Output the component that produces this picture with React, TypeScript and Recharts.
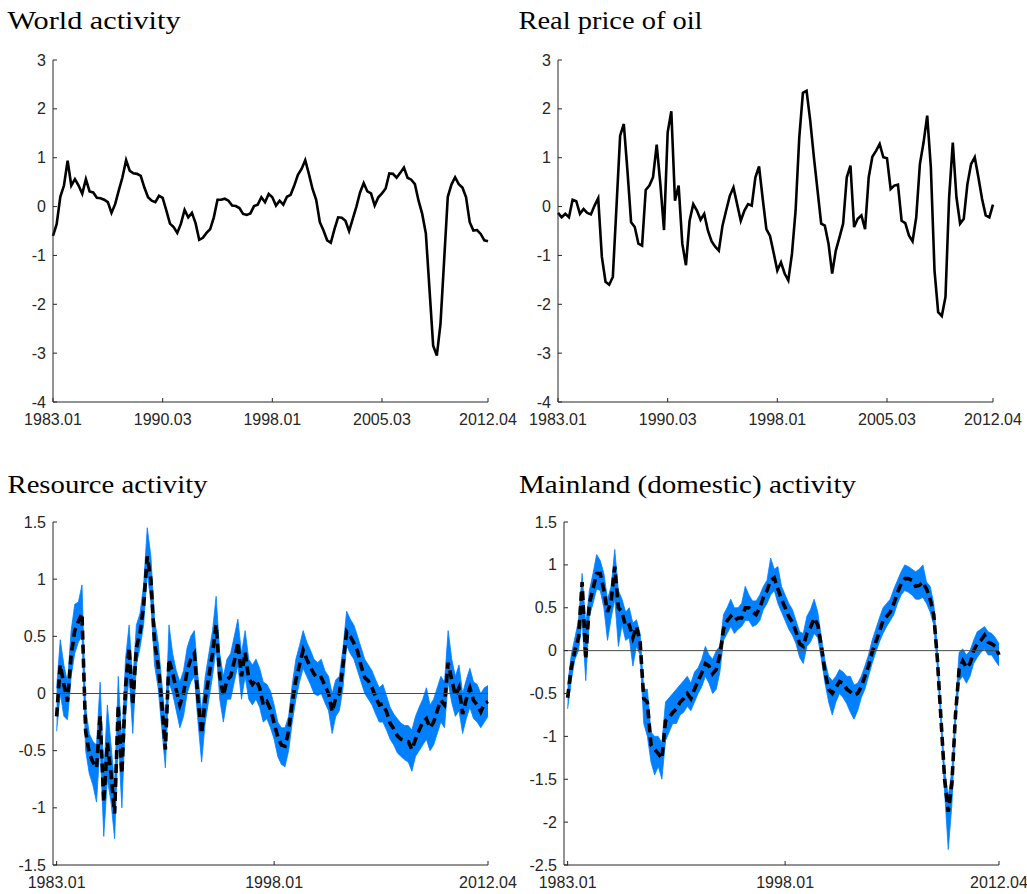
import { ComposedChart, Line, Area, XAxis, YAxis, ReferenceLine } from "recharts";

// quarterly observations, 1983Q1 .. 2012Q4 (120 points)
const worldActivity = [
  -0.6, -0.36, 0.2, 0.43, 0.94, 0.43, 0.56, 0.43, 0.26, 0.56,
  0.31, 0.29, 0.18, 0.17, 0.14, 0.09, -0.13, 0.05, 0.33, 0.6,
  0.95, 0.73, 0.68, 0.67, 0.63, 0.39, 0.19, 0.12, 0.09, 0.22,
  0.18, -0.08, -0.35, -0.42, -0.54, -0.35, -0.07, -0.22, -0.13, -0.34,
  -0.68, -0.64, -0.54, -0.46, -0.22, 0.14, 0.14, 0.16, 0.12, 0.02,
  0.01, -0.03, -0.15, -0.17, -0.14, 0.01, 0.04, 0.19, 0.09, 0.26,
  0.19, 0.02, 0.12, 0.04, 0.2, 0.24, 0.43, 0.65, 0.77, 0.95,
  0.67, 0.36, 0.14, -0.32, -0.49, -0.69, -0.74, -0.46, -0.22, -0.23,
  -0.29, -0.5, -0.25, 0, 0.29, 0.48, 0.31, 0.27, 0.02, 0.19,
  0.27, 0.37, 0.68, 0.67, 0.59, 0.69, 0.8, 0.59, 0.55, 0.46,
  0.12, -0.15, -0.55, -1.7, -2.85, -3.05, -2.4, -1.1, 0.2, 0.45,
  0.6, 0.46, 0.39, 0.19, -0.32, -0.49, -0.48, -0.56, -0.69, -0.71,
];

const oilPrice = [
  -0.13, -0.22, -0.15, -0.22, 0.14, 0.11, -0.15, -0.05, -0.13, -0.16,
  0.02, 0.17, -1.03, -1.54, -1.6, -1.44, 0.0, 1.45, 1.69, 0.73,
  -0.32, -0.42, -0.76, -0.8, 0.34, 0.43, 0.6, 1.27, 0.46, -0.48,
  1.52, 1.95, 0.12, 0.43, -0.76, -1.2, -0.29, 0.05, -0.08, -0.27,
  -0.15, -0.49, -0.71, -0.82, -0.9, -0.39, -0.08, 0.22, 0.39, 0.05,
  -0.29, -0.08, 0.05, 0.02, 0.6, 0.82, 0.16, -0.46, -0.6, -0.95,
  -1.31, -1.14, -1.37, -1.51, -0.97, -0.08, 1.41, 2.33, 2.37, 1.76,
  1.01, 0.33, -0.35, -0.39, -0.76, -1.37, -0.9, -0.63, -0.35, 0.6,
  0.84, -0.42, -0.25, -0.18, -0.46, 0.6, 1.02, 1.14, 1.28, 1.01,
  0.99, 0.36, 0.43, 0.45, -0.29, -0.34, -0.59, -0.71, -0.22, 0.87,
  1.31, 1.86, 0.8, -1.31, -2.16, -2.24, -1.85, 0.19, 1.31, 0.19,
  -0.35, -0.25, 0.46, 0.87, 1.01, 0.6, 0.16, -0.18, -0.22, 0.04,
];

const resourceMedian = [
  -0.2, 0.25, 0.08, -0.07, 0.33, 0.55, 0.63, 0.7, -0.33, -0.52,
  -0.6, -0.65, -0.2, -0.95, -0.43, -0.7, -1.05, -0.1, -0.7, 0.05,
  0.4, -0.1, 0.4, 0.53, 0.77, 1.2, 1.0, 0.45, 0.25, -0.08,
  -0.49, 0.3, 0.18, 0.03, -0.1, 0.0, 0.2, 0.3, 0.35, -0.05,
  -0.35, -0.05, 0.15, 0.35, 0.6, 0.15, -0.02, 0.12, 0.15, 0.28,
  0.45, 0.15, 0.36, 0.13, 0.08, 0.12, 0.05, -0.1, -0.07, -0.14,
  -0.26, -0.38, -0.45, -0.46, -0.33, -0.08, 0.12, 0.25, 0.38, 0.3,
  0.23, 0.17, 0.13, 0.14, 0.07, 0.0, -0.16, -0.04, 0.0, 0.25,
  0.54, 0.5, 0.44, 0.37, 0.24, 0.14, 0.11, 0.05, -0.03, -0.1,
  -0.09, -0.16, -0.26, -0.31, -0.37, -0.4, -0.41, -0.42, -0.49, -0.4,
  -0.32, -0.25, -0.22, -0.3, -0.25, -0.15, -0.06, -0.1, 0.27, 0.12,
  -0.02, 0.05, -0.18, -0.05, 0.05, -0.06, -0.1, -0.16, -0.09, -0.07,
];

const resourceHi = [
  0.05, 0.47, 0.25, 0.1, 0.55, 0.78, 0.8, 0.95, -0.12, -0.35,
  -0.42, -0.45, 0.1, -0.7, -0.1, -0.45, -0.8, 0.15, -0.45, 0.3,
  0.6, 0.1, 0.6, 0.7, 0.95, 1.45, 1.2, 0.65, 0.45, 0.1,
  -0.25, 0.6, 0.35, 0.2, 0.1, 0.2, 0.4, 0.5, 0.55, 0.15,
  -0.15, 0.15, 0.35, 0.55, 0.85, 0.35, 0.15, 0.3, 0.35, 0.5,
  0.65, 0.35, 0.55, 0.3, 0.25, 0.3, 0.22, 0.1, 0.08, 0.02,
  -0.1, -0.25, -0.3, -0.3, -0.2, 0.08, 0.3, 0.42, 0.55, 0.45,
  0.38, 0.3, 0.27, 0.3, 0.2, 0.15, 0.0, 0.12, 0.15, 0.4,
  0.72, 0.65, 0.6, 0.5, 0.4, 0.3, 0.25, 0.2, 0.12, 0.05,
  0.08, -0.02, -0.12, -0.18, -0.22, -0.26, -0.28, -0.28, -0.32, -0.2,
  -0.12, -0.05, 0.05, -0.1, -0.05, 0.05, 0.15, 0.1, 0.55, 0.3,
  0.15, 0.25, 0.0, 0.12, 0.22, 0.1, 0.08, 0.0, 0.05, 0.07,
];

const resourceLo = [
  -0.33, 0.0, -0.2, -0.23, 0.15, 0.35, 0.45, 0.5, -0.5, -0.7,
  -0.8, -0.95, -0.45, -1.25, -0.75, -0.95, -1.27, -0.4, -1.0, -0.2,
  0.15, -0.35, 0.25, 0.4, 0.6, 1.05, 0.8, 0.25, 0.05, -0.3,
  -0.65, 0.1, 0.0, -0.15, -0.3, -0.2, 0.0, 0.1, 0.15, -0.25,
  -0.6, -0.25, -0.05, 0.15, 0.4, -0.05, -0.25, -0.05, -0.05, 0.1,
  0.25, -0.05, 0.15, -0.05, -0.1, -0.05, -0.12, -0.25, -0.22, -0.3,
  -0.4, -0.55, -0.62, -0.64, -0.5, -0.25, -0.05, 0.1, 0.22, 0.15,
  0.08, 0.0, -0.02, 0.0, -0.08, -0.15, -0.35, -0.2, -0.15, 0.05,
  0.42, 0.35, 0.3, 0.2, 0.1, 0.0, -0.05, -0.1, -0.18, -0.25,
  -0.25, -0.32, -0.4, -0.45, -0.52, -0.55, -0.58, -0.6, -0.68, -0.55,
  -0.5, -0.45, -0.4, -0.5, -0.45, -0.35, -0.25, -0.3, 0.1, -0.08,
  -0.2, -0.15, -0.35, -0.22, -0.12, -0.22, -0.25, -0.3, -0.25, -0.2,
];

const mainlandMedian = [
  -0.55, -0.2, 0.0, 0.15, 0.8, -0.1, 0.55, 0.72, 0.9, 0.9,
  0.7, 0.45, 0.58, 0.98, 0.5, 0.45, 0.28, 0.3, 0.15, 0.28,
  0.1, -0.56, -0.6, -1.1, -1.15, -1.2, -1.26, -0.82, -0.78, -0.72,
  -0.68, -0.6, -0.56, -0.5, -0.56, -0.45, -0.35, -0.26, -0.15, -0.18,
  -0.27, -0.22, -0.05, 0.25, 0.35, 0.4, 0.35, 0.38, 0.38, 0.5,
  0.5, 0.45, 0.42, 0.5, 0.62, 0.7, 0.82, 0.85, 0.72, 0.6,
  0.5, 0.4, 0.33, 0.22, 0.08, 0.05, 0.2, 0.27, 0.38, 0.3,
  0.05, -0.25, -0.45, -0.5, -0.43, -0.36, -0.38, -0.45, -0.48, -0.52,
  -0.5, -0.42, -0.3, -0.18, -0.02, 0.1, 0.22, 0.35, 0.4, 0.45,
  0.55, 0.68, 0.78, 0.84, 0.84, 0.82, 0.75, 0.76, 0.8, 0.72,
  0.6, 0.42, -0.1, -0.8, -1.5, -1.88, -1.55, -0.75, -0.22, -0.12,
  -0.2, -0.15, 0.0, 0.08, 0.12, 0.18, 0.1, 0.08, 0.05, -0.05,
];

const mainlandHi = [
  -0.4, -0.05, 0.15, 0.35, 0.9, 0.3, 0.7, 0.9, 1.12, 1.05,
  0.9, 0.6, 0.75, 1.18, 0.7, 0.6, 0.45, 0.5, 0.32, 0.36,
  0.2, -0.45, -0.45, -0.95, -1.0, -1.0, -1.08, -0.6, -0.55, -0.5,
  -0.45, -0.4, -0.35, -0.3, -0.38, -0.25, -0.2, -0.1, 0.05, -0.05,
  -0.1, 0.0, 0.05, 0.42, 0.5, 0.6, 0.5, 0.5, 0.55, 0.75,
  0.65, 0.58, 0.58, 0.65, 0.75, 0.82, 1.08, 0.95, 0.98, 0.75,
  0.65, 0.55, 0.48, 0.35, 0.22, 0.2, 0.4, 0.48, 0.6, 0.45,
  0.15, -0.12, -0.3, -0.35, -0.3, -0.22, -0.25, -0.3, -0.3, -0.4,
  -0.38, -0.3, -0.18, -0.05, 0.12, 0.25, 0.38, 0.5, 0.55, 0.6,
  0.72, 0.82, 0.92, 1.0, 0.98, 0.95, 0.92, 0.95, 1.0, 0.8,
  0.75, 0.55, 0.02, -0.7, -1.4, -1.7, -1.4, -0.65, -0.02, 0.02,
  -0.05, 0.0, 0.12, 0.22, 0.25, 0.28, 0.22, 0.2, 0.15, 0.08,
];

const mainlandLo = [
  -0.68, -0.35, -0.1, 0.0, 0.35, -0.35, 0.4, 0.55, 0.72, 0.7,
  0.5, 0.12, 0.38, 0.6, 0.05, 0.3, 0.12, 0.15, -0.18, 0.05,
  -0.05, -0.85, -1.0, -1.3, -1.45, -1.35, -1.5, -1.05, -0.95, -0.85,
  -0.85, -0.75, -0.72, -0.65, -0.7, -0.6, -0.5, -0.42, -0.3, -0.38,
  -0.5, -0.45, -0.25, 0.12, 0.2, 0.28, 0.2, 0.25, 0.28, 0.35,
  0.35, 0.28, 0.3, 0.35, 0.48, 0.55, 0.65, 0.7, 0.55, 0.45,
  0.35, 0.25, 0.18, 0.08, -0.08, -0.15, 0.05, 0.1, 0.2, 0.15,
  -0.1, -0.38, -0.6, -0.75, -0.6, -0.5, -0.55, -0.62, -0.72, -0.8,
  -0.7, -0.55, -0.45, -0.3, -0.15, -0.02, 0.1, 0.2, 0.28, 0.35,
  0.42, 0.55, 0.65, 0.7, 0.68, 0.65, 0.6, 0.6, 0.62, 0.55,
  0.45, 0.3, -0.2, -0.9, -1.65, -2.32, -1.8, -0.85, -0.35, -0.3,
  -0.38, -0.3, -0.15, -0.08, -0.02, 0.02, -0.05, -0.05, -0.12, -0.18,
];

// x ticks (quarter index -> label)
const topTickPos = [0, 30, 60, 90, 119];
const topTickLabels = ["1983.01", "1990.03", "1998.01", "2005.03", "2012.04"];
const bottomTickPos = [0, 60, 119];
const bottomTickLabels = ["1983.01", "1998.01", "2012.04"];

const topYTicks = [-4, -3, -2, -1, 0, 1, 2, 3];
const resourceYTicks = [-1.5, -1, -0.5, 0, 0.5, 1, 1.5];
const mainlandYTicks = [-2.5, -2, -1.5, -1, -0.5, 0, 0.5, 1, 1.5];

const AXIS = "#262626";
const BAND = "#0080ff";
const TICK_FONT = '"Liberation Sans", Arial, Helvetica, sans-serif';
const TITLE_FONT = '"Liberation Serif", "Times New Roman", serif';
const TICK_SIZE = 16;
const PLOT_W = 435;

const topRows = worldActivity.map((v, i) => ({ q: i, world: v, oil: oilPrice[i] }));
const resourceRows = resourceMedian.map((v, i) => ({ q: i, med: v, band: [resourceLo[i], resourceHi[i]] }));
const mainlandRows = mainlandMedian.map((v, i) => ({ q: i, med: v, band: [mainlandLo[i], mainlandHi[i]] }));

// matlab style: ticks point inward, labels below / left
function xTick(pos: number[], labels: string[]) {
  return (props: any) => {
    const { x, y, payload } = props;
    const label = labels[pos.indexOf(payload.value)];
    return (
      <g>
        <line x1={x} y1={y} x2={x} y2={y - 4} stroke={AXIS} strokeWidth={1} />
        <text x={x} y={y + 23} textAnchor="middle" fontSize={TICK_SIZE} fontFamily={TICK_FONT} fill={AXIS}>
          {label}
        </text>
      </g>
    );
  };
}

const yTick = (props: any) => {
  const { x, y, payload } = props;
  return (
    <g>
      <line x1={x} y1={y} x2={x + 4} y2={y} stroke={AXIS} strokeWidth={1} />
      <text x={x - 7} y={y + 5.5} textAnchor="end" fontSize={TICK_SIZE} fontFamily={TICK_FONT} fill={AXIS}>
        {String(payload.value)}
      </text>
    </g>
  );
};

function Title({ x, y, width, text }: { x: number; y: number; width: number; text: string }) {
  return (
    <svg width={width + x + 10} height={y + 10} style={{ position: "absolute", left: 0, top: 0, overflow: "visible" }}>
      <text x={x} y={y} fontSize={25} fontFamily={TITLE_FONT} fill="#000" textLength={width} lengthAdjust="spacingAndGlyphs">
        {text}
      </text>
    </svg>
  );
}

function TopPanel({ left, width, dataKey, title, titleX, titleW }: any) {
  return (
    <div style={{ position: "absolute", left, top: 0, width, height: 440 }}>
      <Title x={titleX} y={28.5} width={titleW} text={title} />
      <div style={{ position: "absolute", left: 0, top: 0 }}>
        <ComposedChart width={width} height={440} data={topRows} margin={{ top: 60, right: width - 53 - PLOT_W, bottom: 0, left: 0 }}>
          <XAxis
            type="number"
            dataKey="q"
            domain={[0, 119]}
            ticks={topTickPos}
            interval={0}
            tickSize={0}
            tickMargin={0}
            tickLine={false}
            axisLine={{ stroke: AXIS, strokeWidth: 1 }}
            height={38}
            tick={xTick(topTickPos, topTickLabels)}
          />
          <YAxis
            type="number"
            domain={[-4, 3]}
            ticks={topYTicks}
            interval={0}
            tickSize={0}
            tickMargin={0}
            tickLine={false}
            axisLine={{ stroke: AXIS, strokeWidth: 1 }}
            width={53}
            tick={yTick}
          />
          <Line type="linear" dataKey={dataKey} stroke="#000" strokeWidth={2.6} dot={false} isAnimationActive={false} />
        </ComposedChart>
      </div>
    </div>
  );
}

function BandPanel({ left, width, rows, yDomain, yTicks, title, titleX, titleW, yWidth }: any) {
  return (
    <div style={{ position: "absolute", left, top: 460, width, height: 434 }}>
      <Title x={titleX} y={32.5} width={titleW} text={title} />
      <div style={{ position: "absolute", left: 0, top: 0 }}>
        <ComposedChart width={width} height={434} data={rows} margin={{ top: 62, right: width - yWidth - PLOT_W, bottom: 0, left: 0 }}>
          <XAxis
            type="number"
            dataKey="q"
            domain={[-1, 119]}
            ticks={bottomTickPos}
            interval={0}
            tickSize={0}
            tickMargin={0}
            tickLine={false}
            axisLine={{ stroke: AXIS, strokeWidth: 1 }}
            height={29}
            tick={xTick(bottomTickPos, bottomTickLabels)}
          />
          <YAxis
            type="number"
            domain={yDomain}
            ticks={yTicks}
            interval={0}
            tickSize={0}
            tickMargin={0}
            tickLine={false}
            axisLine={{ stroke: AXIS, strokeWidth: 1 }}
            width={yWidth}
            tick={yTick}
          />
          <Area
            type="linear"
            dataKey="band"
            stroke={BAND}
            strokeWidth={0.8}
            fill={BAND}
            fillOpacity={1}
            isAnimationActive={false}
          />
          <Line
            type="linear"
            dataKey="med"
            stroke="#000"
            strokeWidth={3.6}
            strokeDasharray="9 5"
            dot={false}
            isAnimationActive={false}
          />
          <ReferenceLine y={0} stroke="#4a4a4a" strokeWidth={1} />
        </ComposedChart>
      </div>
    </div>
  );
}

export default function App() {
  return (
    <div style={{ position: "absolute", left: 0, top: 0, width: 1027, height: 894, background: "#fff", overflow: "hidden" }}>
      <TopPanel left={0} width={530} dataKey="world" title="World activity" titleX={7.5} titleW={173} />
      <TopPanel left={505} width={522} dataKey="oil" title="Real price of oil" titleX={13.5} titleW={184} />
      <BandPanel
        left={0}
        width={530}
        rows={resourceRows}
        yDomain={[-1.5, 1.5]}
        yTicks={resourceYTicks}
        title="Resource activity"
        titleX={7.5}
        titleW={200}
        yWidth={53}
      />
      <BandPanel
        left={510}
        width={517}
        rows={mainlandRows}
        yDomain={[-2.5, 1.5]}
        yTicks={mainlandYTicks}
        title="Mainland (domestic) activity"
        titleX={9}
        titleW={337}
        yWidth={54}
      />
    </div>
  );
}
